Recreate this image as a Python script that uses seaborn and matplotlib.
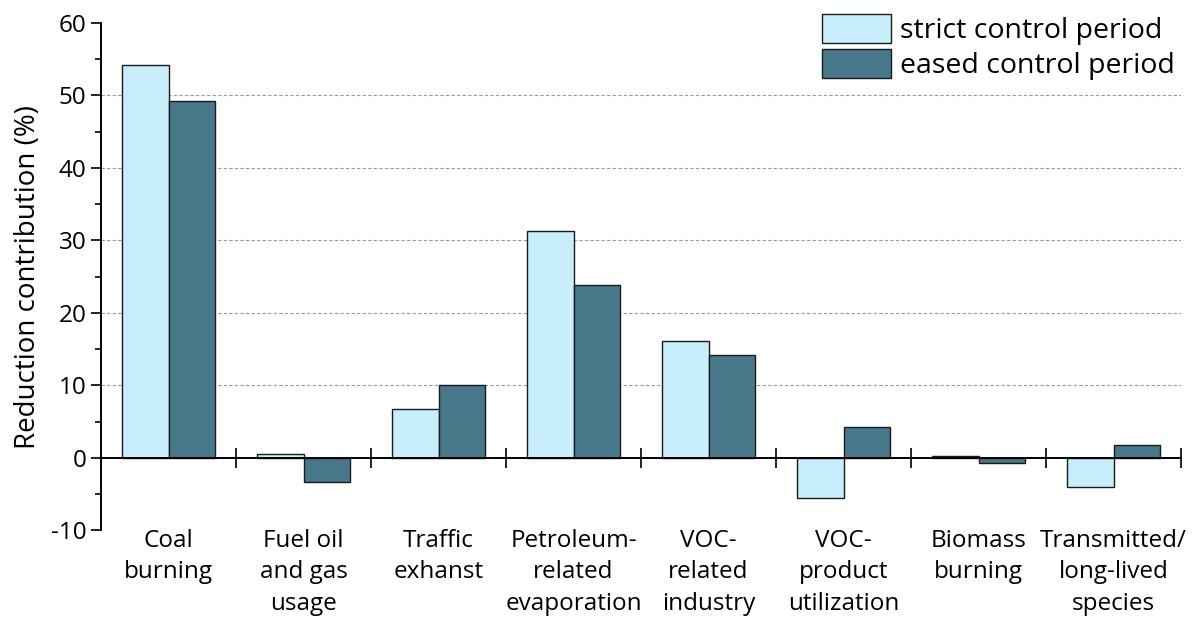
import matplotlib
matplotlib.use("Agg")
import matplotlib.pyplot as plt
from matplotlib.ticker import FixedLocator, MultipleLocator
import seaborn as sns
import pandas as pd

categories = ["Coal\nburning", "Fuel oil\nand gas\nusage", "Traffic\nexhanst",
              "Petroleum-\nrelated\nevaporation", "VOC-\nrelated\nindustry",
              "VOC-\nproduct\nutilization", "Biomass\nburning",
              "Transmitted/\nlong-lived\nspecies"]
strict = [54.2, 0.45, 6.7, 31.3, 16.1, -5.5, 0.3, -4.1]
eased = [49.3, -3.35, 10.1, 23.9, 14.2, 4.3, -0.7, 1.8]
series = ["strict control period", "eased control period"]
colors = ["#C8EEFC", "#47788A"]

df = pd.DataFrame({
    "category": categories * 2,
    "value": strict + eased,
    "period": [series[0]] * len(categories) + [series[1]] * len(categories),
})

sns.set_theme(style="white")
plt.rcParams["font.family"] = ["Open Sans", "DejaVu Sans"]
plt.rcParams["axes.unicode_minus"] = False
plt.rcParams["text.color"] = "black"
plt.rcParams["axes.labelcolor"] = "black"
plt.rcParams["xtick.color"] = "black"
plt.rcParams["ytick.color"] = "black"

fig = plt.figure(figsize=(11.94, 6.23), dpi=100)
ax = fig.add_axes([0.0846, 0.149, 0.9046, 0.814])

sns.barplot(data=df, x="category", y="value", hue="period", order=categories,
            hue_order=series, palette=colors, width=0.69, edgecolor="#1a1a1a",
            linewidth=1.0, ax=ax, saturation=1)

ax.set_xlim(-0.5, 7.5)
ax.set_ylim(-10, 60)

# spines
for s in ["top", "right"]:
    ax.spines[s].set_visible(False)
ax.spines["bottom"].set_position(("data", 0))
ax.spines["bottom"].set_linewidth(1.4)
ax.spines["bottom"].set_color("black")
ax.spines["left"].set_linewidth(1.4)
ax.spines["left"].set_color("black")

# y ticks
ax.yaxis.set_major_locator(MultipleLocator(10))
ax.yaxis.set_minor_locator(MultipleLocator(5))
ax.tick_params(axis="y", which="major", direction="out", length=7, width=1.2,
               color="black", labelsize=17.5, left=True, labelcolor="black")
ax.tick_params(axis="y", which="minor", direction="out", length=4, width=1.2,
               color="black", left=True)

# x ticks: boundaries as minor ticks, labels below
ax.xaxis.set_minor_locator(FixedLocator([i + 0.5 for i in range(len(categories))]))
ax.tick_params(axis="x", which="minor", direction="inout", length=14, width=1.2,
               color="black", bottom=True)
ax.tick_params(axis="x", which="major", length=0, pad=51, labelsize=17.5,
               labelcolor="black")
for lbl in ax.get_xticklabels():
    lbl.set_linespacing(1.42)
ax.set_xlabel("")
ax.set_ylabel("Reduction contribution (%)", fontsize=20, labelpad=6)

# grid
ax.grid(axis="y", which="major", linestyle=(0, (3, 2)), color="#999999", linewidth=0.8)
ax.grid(axis="x", visible=False)
for gl, v in zip(ax.get_ygridlines(), ax.get_yticks()):
    if v <= 0 or v >= 60:
        gl.set_visible(False)
ax.set_axisbelow(True)

leg = ax.legend(loc="upper right", bbox_to_anchor=(0.984, 0.978),
                bbox_transform=fig.transFigure, frameon=False, fontsize=20.5,
                handlelength=2.45, handleheight=1.2, handletextpad=0.3,
                labelspacing=0.15, borderaxespad=0, borderpad=0)

fig.savefig("out.png", dpi=100)
